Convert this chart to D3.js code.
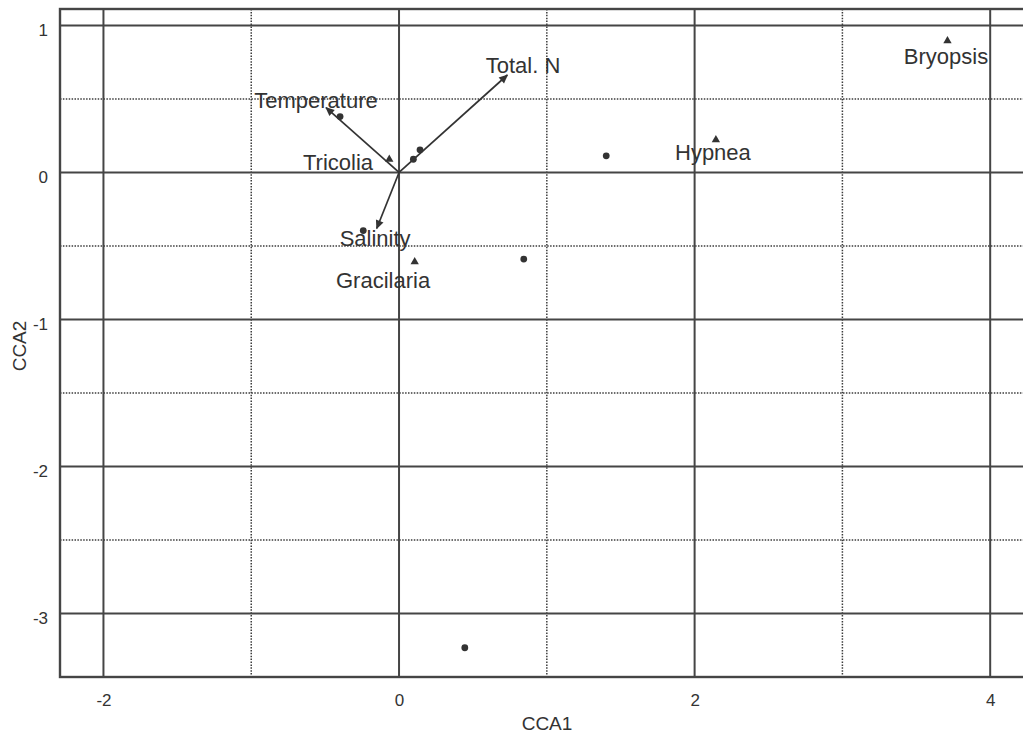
<!DOCTYPE html>
<html>
<head>
<meta charset="utf-8">
<script src="https://cdn.jsdelivr.net/npm/d3@7"></script>
<style>
  html, body { margin: 0; padding: 0; background: #fff; }
  svg { display: block; font-family: "Liberation Sans", Arial, sans-serif; }
</style>
</head>
<body>
<svg id="chart" width="1023" height="736"></svg>
<script>
// CCA ordination: site scores, species scores and environmental vectors
const siteCCA1 = [-0.399, 0.142, 0.097, -0.242, 0.844, 1.402, 0.445];
const siteCCA2 = [0.380, 0.154, 0.090, -0.395, -0.589, 0.113, -3.233];

const speciesNames = ["Tricolia", "Gracilaria", "Hypnea", "Bryopsis"];
const speciesCCA1 = [-0.066, 0.106, 2.144, 3.711];
const speciesCCA2 = [0.090, -0.608, 0.222, 0.895];
// where each species name sits (ordination units)
const speciesLabelCCA1 = [-0.413, -0.108, 2.124, 3.701];
const speciesLabelCCA2 = [0.069, -0.730, 0.137, 0.789];

const envNames = ["Temperature", "Total. N", "Salinity"];
const envCCA1 = [-0.494, 0.733, -0.151];
const envCCA2 = [0.441, 0.663, -0.381];
const envLabelCCA1 = [-0.562, 0.839, -0.162];
const envLabelCCA2 = [0.490, 0.728, -0.445];

const xTickValues = [-2, 0, 2, 4];
const yTickValues = [1, 0, -1, -2, -3];
const xHalfValues = [-1, 1, 3];
const yHalfValues = [0.5, -0.5, -1.5, -2.5];

const ink = "#333333";
const gridInk = "#454545";

const plot = { left: 60, top: 9, right: 1030, bottom: 677 };

const x = d3.scaleLinear().domain([-2.294, 4.222]).range([plot.left, 1023]);
const y = d3.scaleLinear().domain([1.112, -3.432]).range([plot.top, plot.bottom]);

// plain hyphen-minus for negative tick labels
const tickText = d => String(d);

const svg = d3.select("#chart");

svg.append("defs").append("marker")
  .attr("id", "arrowhead")
  .attr("viewBox", "0 0 10 10")
  .attr("refX", 9).attr("refY", 5)
  .attr("markerUnits", "userSpaceOnUse")
  .attr("markerWidth", 10).attr("markerHeight", 9)
  .attr("orient", "auto")
  .append("path")
  .attr("d", "M0,0.5 L10,5 L0,9.5 Z")
  .attr("fill", ink);

const g = svg.append("g");

// dotted half-unit grid
g.selectAll("line.xhalf").data(xHalfValues).join("line")
  .attr("x1", d => x(d)).attr("x2", d => x(d))
  .attr("y1", plot.top).attr("y2", plot.bottom)
  .attr("stroke", "#3c3c3c").attr("stroke-width", 1.5)
  .attr("stroke-dasharray", "1.5,1.4");
g.selectAll("line.yhalf").data(yHalfValues).join("line")
  .attr("x1", plot.left).attr("x2", plot.right)
  .attr("y1", d => y(d)).attr("y2", d => y(d))
  .attr("stroke", "#3c3c3c").attr("stroke-width", 1.5)
  .attr("stroke-dasharray", "1.5,1.4");

// solid grid at the labelled ticks
g.selectAll("line.xmajor").data(xTickValues).join("line")
  .attr("x1", d => x(d)).attr("x2", d => x(d))
  .attr("y1", plot.top).attr("y2", plot.bottom)
  .attr("stroke", gridInk).attr("stroke-width", 2);
g.selectAll("line.ymajor").data(yTickValues).join("line")
  .attr("x1", plot.left).attr("x2", plot.right)
  .attr("y1", d => y(d)).attr("y2", d => y(d))
  .attr("stroke", gridInk).attr("stroke-width", 2);

// panel frame
g.append("rect")
  .attr("x", plot.left).attr("y", plot.top)
  .attr("width", plot.right - plot.left).attr("height", plot.bottom - plot.top)
  .attr("fill", "none").attr("stroke", gridInk).attr("stroke-width", 2.4);

// tick labels
const xAxis = d3.axisBottom(x).tickValues(xTickValues).tickSize(0).tickPadding(0)
  .tickFormat(tickText);
const xAxisG = svg.append("g").attr("transform", `translate(0,${plot.bottom})`).call(xAxis);
xAxisG.select(".domain").remove();
xAxisG.selectAll("text")
  .attr("y", 29).attr("dy", 0)
  .attr("font-size", 17).attr("fill", ink).attr("font-family", "Liberation Sans, Arial, sans-serif");

const yAxis = d3.axisLeft(y).tickValues(yTickValues).tickSize(0).tickPadding(0)
  .tickFormat(tickText);
const yAxisG = svg.append("g").attr("transform", `translate(48,0)`).call(yAxis);
yAxisG.select(".domain").remove();
yAxisG.selectAll("text")
  .attr("x", 0).attr("dy", 10.5)
  .attr("font-size", 17).attr("fill", ink).attr("font-family", "Liberation Sans, Arial, sans-serif");

// axis titles
svg.append("text")
  .attr("x", 547).attr("y", 730)
  .attr("text-anchor", "middle")
  .attr("font-size", 19).attr("fill", ink)
  .text("CCA1");
svg.append("text")
  .attr("transform", "translate(26,346) rotate(-90)")
  .attr("text-anchor", "middle")
  .attr("font-size", 19).attr("fill", ink)
  .text("CCA2");

// environmental vectors
g.selectAll("line.env").data(envNames).join("line")
  .attr("x1", x(0)).attr("y1", y(0))
  .attr("x2", (d, i) => x(envCCA1[i])).attr("y2", (d, i) => y(envCCA2[i]))
  .attr("stroke", ink).attr("stroke-width", 1.7)
  .attr("marker-end", "url(#arrowhead)");

// site scores
g.selectAll("circle.site").data(siteCCA1).join("circle")
  .attr("cx", (d, i) => x(siteCCA1[i])).attr("cy", (d, i) => y(siteCCA2[i]))
  .attr("r", 3.4).attr("fill", ink);

// species scores
g.selectAll("path.species").data(speciesNames).join("path")
  .attr("d", d3.symbol().type(d3.symbolTriangle).size(30))
  .attr("transform", (d, i) => `translate(${x(speciesCCA1[i])},${y(speciesCCA2[i])})`)
  .attr("fill", ink);

// labels
const labelFont = 22;
g.selectAll("text.env").data(envNames).join("text")
  .attr("x", (d, i) => x(envLabelCCA1[i])).attr("y", (d, i) => y(envLabelCCA2[i]))
  .attr("dy", "0.36em").attr("text-anchor", "middle")
  .attr("font-size", labelFont).attr("fill", ink)
  .text(d => d);
g.selectAll("text.species").data(speciesNames).join("text")
  .attr("x", (d, i) => x(speciesLabelCCA1[i])).attr("y", (d, i) => y(speciesLabelCCA2[i]))
  .attr("dy", "0.36em").attr("text-anchor", "middle")
  .attr("font-size", labelFont).attr("fill", ink)
  .text(d => d);
</script>
</body>
</html>
